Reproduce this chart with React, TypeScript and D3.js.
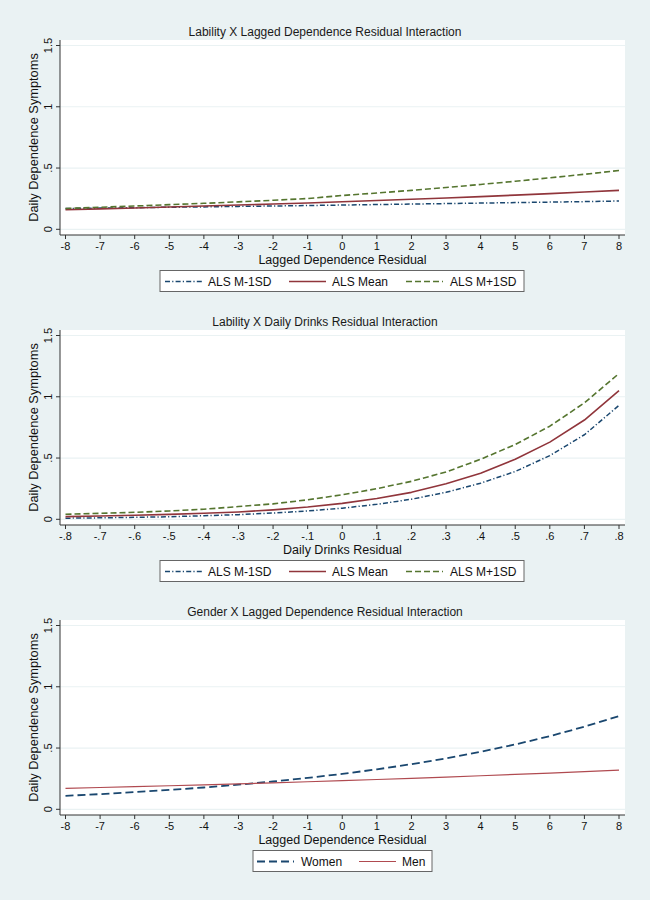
import React from "react";
import * as d3 from "d3";

// ---------- data ----------
const lagX = [-8, -7, -6, -5, -4, -3, -2, -1, 0, 1, 2, 3, 4, 5, 6, 7, 8];
const lagTickLabels = ["-8", "-7", "-6", "-5", "-4", "-3", "-2", "-1", "0", "1", "2", "3", "4", "5", "6", "7", "8"];
const drinksX = [-0.8, -0.7, -0.6, -0.5, -0.4, -0.3, -0.2, -0.1, 0, 0.1, 0.2, 0.3, 0.4, 0.5, 0.6, 0.7, 0.8];
const drinksTickLabels = ["-.8", "-.7", "-.6", "-.5", "-.4", "-.3", "-.2", "-.1", "0", ".1", ".2", ".3", ".4", ".5", ".6", ".7", ".8"];
const yTicks = [0, 0.5, 1, 1.5];
const yTickLabels = ["0", ".5", "1", "1.5"];

// Panel 1: Lability X Lagged Dependence Residual
const p1Low = [0.170, 0.173, 0.176, 0.180, 0.183, 0.187, 0.190, 0.194, 0.198, 0.202, 0.206, 0.210, 0.214, 0.218, 0.222, 0.226, 0.231];
const p1Mean = [0.160, 0.167, 0.174, 0.182, 0.190, 0.198, 0.206, 0.215, 0.225, 0.235, 0.245, 0.256, 0.267, 0.279, 0.291, 0.304, 0.318];
const p1High = [0.170, 0.180, 0.190, 0.201, 0.212, 0.224, 0.237, 0.251, 0.276, 0.296, 0.318, 0.341, 0.366, 0.392, 0.420, 0.449, 0.480];

// Panel 2: Lability X Daily Drinks Residual
const p2Low = [0.009, 0.012, 0.016, 0.021, 0.029, 0.038, 0.051, 0.068, 0.091, 0.122, 0.164, 0.220, 0.295, 0.390, 0.520, 0.690, 0.930];
const p2Mean = [0.022, 0.027, 0.033, 0.040, 0.049, 0.060, 0.077, 0.100, 0.130, 0.170, 0.220, 0.290, 0.375, 0.490, 0.630, 0.810, 1.050];
const p2High = [0.041, 0.049, 0.057, 0.068, 0.082, 0.104, 0.126, 0.159, 0.200, 0.250, 0.310, 0.386, 0.490, 0.610, 0.760, 0.950, 1.190];

// Panel 3: Gender X Lagged Dependence Residual
const p3Women = [0.110, 0.124, 0.140, 0.158, 0.178, 0.201, 0.227, 0.256, 0.289, 0.326, 0.368, 0.415, 0.469, 0.529, 0.597, 0.674, 0.761];
const p3Men = [0.171, 0.178, 0.185, 0.192, 0.200, 0.208, 0.216, 0.225, 0.234, 0.243, 0.253, 0.263, 0.274, 0.285, 0.296, 0.308, 0.320];

const titles = [
  "Lability X Lagged Dependence Residual Interaction",
  "Lability X Daily Drinks Residual Interaction",
  "Gender X Lagged Dependence Residual Interaction",
];
const xTitles = ["Lagged Dependence Residual", "Daily Drinks Residual", "Lagged Dependence Residual"];
const yTitle = "Daily Dependence Symptoms";
const alsLabels = ["ALS M-1SD", "ALS Mean", "ALS M+1SD"];
const genderLabels = ["Women", "Men"];

// ---------- styles ----------
const BG = "#eaf2f3";
const NAVY = "#1a476f";
const MAROON = "#90353b";
const GREEN = "#55752f";
const MEN = "#b04a50";
const FONT = "'Liberation Sans', Arial, Helvetica, sans-serif";

type Series = { label: string; values: number[]; color: string; dash: string | undefined; width: number };

type PanelDef = {
  title: string;
  xTitle: string;
  xs: number[];
  tickLabels: string[];
  series: Series[];
  legend: { x: number[]; w: number; sampleOffsets: number[]; textOffsets: number[] };
};

const DASHDOT = "5,2.2,1.2,2.2";
const DASH = "6,3";
const LONGDASH = "8,4";

const panels: PanelDef[] = [
  {
    title: titles[0],
    xTitle: xTitles[0],
    xs: lagX,
    tickLabels: lagTickLabels,
    series: [
      { label: alsLabels[0], values: p1Low, color: NAVY, dash: DASHDOT, width: 1.5 },
      { label: alsLabels[1], values: p1Mean, color: MAROON, dash: undefined, width: 1.6 },
      { label: alsLabels[2], values: p1High, color: GREEN, dash: DASH, width: 1.6 },
    ],
    legend: { x: [160], w: 364, sampleOffsets: [165, 289, 406], textOffsets: [208, 332, 450] },
  },
  {
    title: titles[1],
    xTitle: xTitles[1],
    xs: drinksX,
    tickLabels: drinksTickLabels,
    series: [
      { label: alsLabels[0], values: p2Low, color: NAVY, dash: DASHDOT, width: 1.5 },
      { label: alsLabels[1], values: p2Mean, color: MAROON, dash: undefined, width: 1.6 },
      { label: alsLabels[2], values: p2High, color: GREEN, dash: DASH, width: 1.6 },
    ],
    legend: { x: [160], w: 364, sampleOffsets: [165, 289, 406], textOffsets: [208, 332, 450] },
  },
  {
    title: titles[2],
    xTitle: xTitles[2],
    xs: lagX,
    tickLabels: lagTickLabels,
    series: [
      { label: genderLabels[0], values: p3Women, color: NAVY, dash: LONGDASH, width: 1.8 },
      { label: genderLabels[1], values: p3Men, color: MEN, dash: undefined, width: 1.2 },
    ],
    legend: { x: [253], w: 179, sampleOffsets: [257, 359], textOffsets: [301, 402] },
  },
];

const PANEL_OFFSETS = [0, 290, 580];

function Panel({ def, oy }: { def: PanelDef; oy: number }) {
  const plotL = 60, plotR = 625, plotT = 40, plotB = 235;
  const x = d3.scaleLinear().domain([def.xs[0], def.xs[def.xs.length - 1]]).range([65.5, 619]);
  const y = d3.scaleLinear().domain([0, 1.5]).range([229.3, 45.5]);
  const line = d3
    .line<number>()
    .x((_, i) => x(def.xs[i]))
    .y((v) => y(v));
  const legY = 281.5;
  const sampleLen = 37;
  return (
    <g transform={`translate(0,${oy})`} fontFamily={FONT}>
      <text x={325} y={36} textAnchor="middle" fontSize={12} fill="#1a1a1a">
        {def.title}
      </text>
      <rect x={plotL} y={plotT} width={plotR - plotL} height={plotB - plotT} fill="#ffffff" />
      {yTicks.map((t) => (
        <line key={"g" + t} x1={plotL} x2={plotR} y1={y(t)} y2={y(t)} stroke={BG} strokeWidth={1.2} />
      ))}
      {def.series.map((s) => (
        <path
          key={s.label}
          d={line(s.values) || ""}
          fill="none"
          stroke={s.color}
          strokeWidth={s.width}
          strokeDasharray={s.dash}
          strokeLinejoin="round"
        />
      ))}
      {/* y axis */}
      <line x1={plotL} x2={plotL} y1={plotT} y2={plotB} stroke="#333" strokeWidth={1} />
      {yTicks.map((t, i) => (
        <g key={"yt" + t}>
          <line x1={plotL - 4} x2={plotL} y1={y(t)} y2={y(t)} stroke="#333" strokeWidth={1} />
          <text
            transform={`translate(${52},${y(t)}) rotate(-90)`}
            textAnchor="middle"
            fontSize={11}
            fill="#111"
          >
            {yTickLabels[i]}
          </text>
        </g>
      ))}
      <text
        transform={`translate(${37.5},${(plotT + plotB) / 2 + 0}) rotate(-90)`}
        textAnchor="middle"
        fontSize={12.8}
        fill="#111"
      >
        {yTitle}
      </text>
      {/* x axis */}
      <line x1={plotL} x2={plotR} y1={plotB} y2={plotB} stroke="#333" strokeWidth={1} />
      {def.xs.map((t, i) => (
        <g key={"xt" + i}>
          <line x1={x(t)} x2={x(t)} y1={plotB} y2={plotB + 4} stroke="#333" strokeWidth={1} />
          <text x={x(t)} y={249.5} textAnchor="middle" fontSize={11} fill="#111">
            {def.tickLabels[i]}
          </text>
        </g>
      ))}
      <text x={342.5} y={263.5} textAnchor="middle" fontSize={12.5} fill="#111">
        {def.xTitle}
      </text>
      {/* legend */}
      <rect x={def.legend.x[0]} y={270.5} width={def.legend.w} height={21} fill="#ffffff" stroke="#666" strokeWidth={1} />
      {def.series.map((s, i) => (
        <g key={"lg" + s.label}>
          <line
            x1={def.legend.sampleOffsets[i]}
            x2={def.legend.sampleOffsets[i] + sampleLen}
            y1={legY}
            y2={legY}
            stroke={s.color}
            strokeWidth={s.width}
            strokeDasharray={s.dash}
          />
          <text x={def.legend.textOffsets[i]} y={legY + 4.3} fontSize={12} fill="#111">
            {s.label}
          </text>
        </g>
      ))}
    </g>
  );
}

export default function App() {
  return (
    <svg
      width={650}
      height={900}
      style={{ position: "absolute", left: 0, top: 0, display: "block" }}
    >
      <rect x={0} y={0} width={650} height={900} fill={BG} />
      {panels.map((p, i) => (
        <Panel key={i} def={p} oy={PANEL_OFFSETS[i]} />
      ))}
    </svg>
  );
}
